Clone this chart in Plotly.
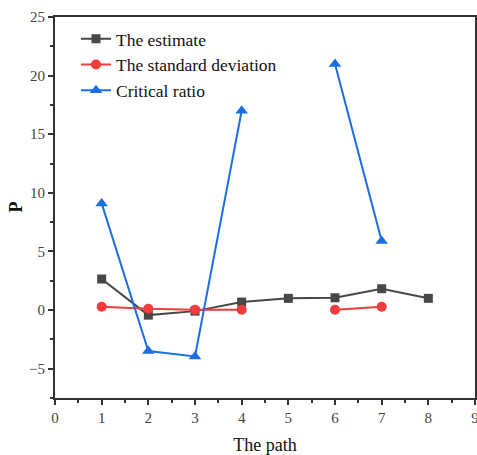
import plotly.graph_objects as go

paths = [1, 2, 3, 4, 5, 6, 7, 8]
estimate = [2.65, -0.43, -0.09, 0.68, 1.0, 1.05, 1.82, 1.0]
std_dev = [0.28, 0.11, 0.03, 0.03, None, 0.03, 0.28, None]
critical_ratio = [9.1, -3.5, -3.95, 17.0, None, 21.0, 5.9, None]

x_ticks = [0, 1, 2, 3, 4, 5, 6, 7, 8, 9]
y_ticks = [-5, 0, 5, 10, 15, 20, 25]

font_serif = "Liberation Serif"

fig = go.Figure()
fig.add_trace(go.Scatter(
    x=paths, y=estimate, name="The estimate", mode="lines+markers",
    line=dict(color="#474747", width=2),
    marker=dict(symbol="square", size=9, color="#474747"),
    connectgaps=False))
fig.add_trace(go.Scatter(
    x=paths, y=std_dev, name="The standard deviation", mode="lines+markers",
    line=dict(color="#F03C3C", width=2),
    marker=dict(symbol="circle", size=10, color="#F03C3C"),
    connectgaps=False))
fig.add_trace(go.Scatter(
    x=paths, y=critical_ratio, name="Critical ratio", mode="lines+markers",
    line=dict(color="#1C6FE3", width=2),
    marker=dict(symbol="triangle-up", size=11, color="#1C6FE3"),
    connectgaps=False))

axis_common = dict(
    showline=True, linecolor="#333333", linewidth=2, mirror=True,
    ticks="outside", ticklen=5, tickwidth=1.5, tickcolor="#333333",
    showgrid=False, zeroline=False, automargin=False,
    ticklabeloverflow="allow",
    tickfont=dict(family=font_serif, size=15, color="#444444"),
)

fig.update_xaxes(
    range=[0, 9], tickvals=x_ticks,
    title=dict(text="The path", font=dict(family=font_serif, size=18, color="#111111"), standoff=13),
    minor=dict(ticks="outside", ticklen=3, tickwidth=1.5, tickcolor="#333333", dtick=0.5, tick0=0),
    **axis_common)
fig.update_yaxes(
    range=[-7.5, 25], tickvals=y_ticks, tickformat="d",
    minor=dict(ticks="outside", ticklen=3, tickwidth=1.5, tickcolor="#333333", dtick=2.5, tick0=0),
    **axis_common)

fig.add_annotation(
    text="<b>P</b>", xref="paper", yref="paper", x=-0.095, y=0.5,
    xanchor="center", yanchor="middle", textangle=-90, showarrow=False,
    font=dict(family=font_serif, size=18, color="#111111"))

fig.update_layout(
    width=477, height=455,
    margin=dict(l=55, r=2, t=17, b=57, autoexpand=False),
    plot_bgcolor="white", paper_bgcolor="white",
    font=dict(family=font_serif),
    showlegend=True,
    legend=dict(x=0.05, y=0.99, xanchor="left", yanchor="top",
                bgcolor="rgba(0,0,0,0)", borderwidth=0,
                font=dict(family=font_serif, size=17.5, color="#111111"),
                tracegroupgap=0),
)

fig.write_html("out.html", config={"displayModeBar": False})

with open("out.html", encoding="utf-8") as f:
    html = f.read()
html = html.replace("<body>", '<body style="margin:0;overflow:hidden">', 1)
with open("out.html", "w", encoding="utf-8") as f:
    f.write(html)
